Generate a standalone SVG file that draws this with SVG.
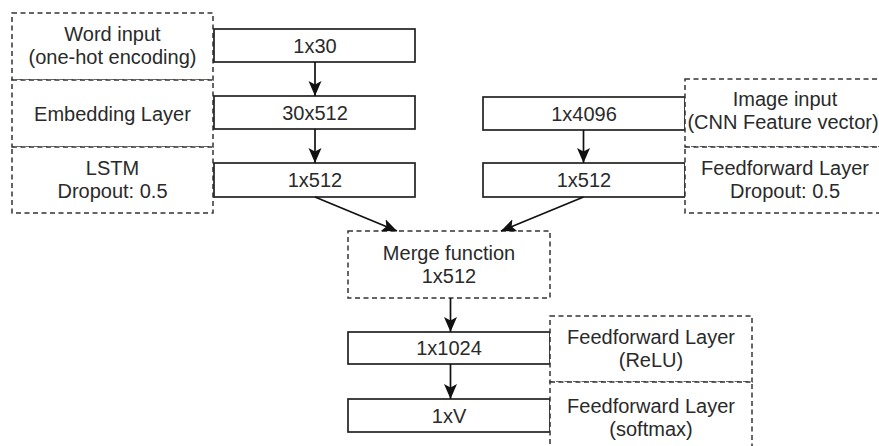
<svg xmlns="http://www.w3.org/2000/svg" width="879" height="446" viewBox="0 0 879 446">
<style>
text{font-family:"Liberation Sans",Arial,sans-serif;font-size:20px;fill:#2a2a2a;text-anchor:middle}
.dash{fill:#fff;stroke:#333;stroke-width:1.5;stroke-dasharray:5 3.5}
.box{fill:#fff;stroke:#222;stroke-width:1.7}
.conn{fill:none;stroke:#111;stroke-width:1.7}
</style>
<defs>
<marker id="arr" markerUnits="userSpaceOnUse" markerWidth="16" markerHeight="16" viewBox="0 0 16 16" refX="15" refY="8" orient="auto">
<path d="M0,1.5 L15,8 L0,14.5 L3.5,8 Z" fill="#111"/>
</marker>
</defs>
<rect width="879" height="446" fill="#fff"/>
<g id="word-input-label"><rect class="dash" x="12" y="13" width="201" height="67"/><text x="112.5" y="40.5">Word input</text><text x="112.5" y="63.5">(one-hot encoding)</text></g>
<g id="embedding-label"><rect class="dash" x="12" y="80" width="201" height="67"/><text x="112.5" y="121">Embedding Layer</text></g>
<g id="lstm-label"><rect class="dash" x="12" y="147" width="201" height="66"/><text x="112.5" y="175">LSTM</text><text x="112.5" y="198">Dropout: 0.5</text></g>
<g id="n1x30"><rect class="box" x="214" y="29" width="201" height="33"/><text x="315" y="52.5">1x30</text></g>
<g id="n30x512"><rect class="box" x="214" y="96" width="201" height="33"/><text x="315" y="119.5">30x512</text></g>
<g id="n1x512-left"><rect class="box" x="214" y="163" width="201" height="34"/><text x="315" y="187">1x512</text></g>
<g id="n1x4096"><rect class="box" x="483" y="97" width="202" height="33"/><text x="584" y="120.5">1x4096</text></g>
<g id="n1x512-right"><rect class="box" x="483" y="163" width="202" height="34"/><text x="584" y="187">1x512</text></g>
<g id="image-input-label"><rect class="dash" x="685" y="79" width="201" height="68"/><text x="785" y="106">Image input</text><text x="783" y="129">(CNN Feature vector)</text></g>
<g id="feedforward-dropout-label"><rect class="dash" x="685" y="147" width="201" height="66"/><text x="785" y="175">Feedforward Layer</text><text x="785" y="198">Dropout: 0.5</text></g>
<g id="merge"><rect class="dash" x="348" y="231" width="202" height="67"/><text x="449" y="260">Merge function</text><text x="449" y="283">1x512</text></g>
<g id="n1x1024"><rect class="box" x="348" y="332" width="202" height="32"/><text x="449" y="355">1x1024</text></g>
<g id="n1xV"><rect class="box" x="348" y="399" width="202" height="33"/><text x="449" y="422.5">1xV</text></g>
<g id="relu-label"><rect class="dash" x="550" y="316" width="202" height="66"/><text x="651" y="343.5">Feedforward Layer</text><text x="651" y="366.5">(ReLU)</text></g>
<g id="softmax-label"><rect class="dash" x="550" y="382" width="202" height="67"/><text x="651" y="412.5">Feedforward Layer</text><text x="651" y="435.5">(softmax)</text></g>
<g id="connectors">
<line class="conn" x1="315" y1="62" x2="315" y2="96" marker-end="url(#arr)"/>
<line class="conn" x1="315" y1="129" x2="315" y2="163" marker-end="url(#arr)"/>
<line class="conn" x1="583.5" y1="130" x2="583.5" y2="163" marker-end="url(#arr)"/>
<line class="conn" x1="315" y1="197" x2="397" y2="231" marker-end="url(#arr)"/>
<line class="conn" x1="583.5" y1="197" x2="501" y2="231" marker-end="url(#arr)"/>
<line class="conn" x1="450.5" y1="298" x2="450.5" y2="332" marker-end="url(#arr)"/>
<line class="conn" x1="450.5" y1="364" x2="450.5" y2="399" marker-end="url(#arr)"/>
</g>
</svg>
